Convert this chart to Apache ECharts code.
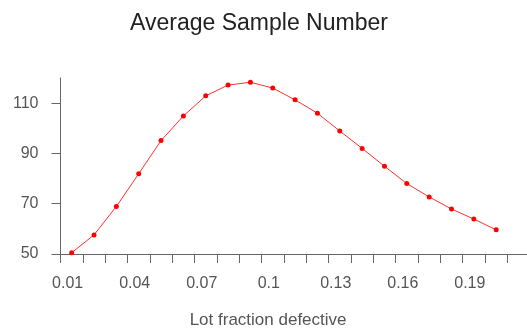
<!DOCTYPE html>
<html><head><meta charset="utf-8">
<script src="https://cdn.jsdelivr.net/npm/echarts@6/dist/echarts.min.js"></script>
<style>html,body{margin:0;padding:0;background:#fff}#c{width:527px;height:329px}</style>
</head><body><div id="c"></div>
<script>
const categories = ['0.01','0.02','0.03','0.04','0.05','0.06','0.07','0.08','0.09','0.1','0.11','0.12','0.13','0.14','0.15','0.16','0.17','0.18','0.19','0.2','0.21'];
const asnValues = [50.5, 57.6, 68.9, 81.9, 95.1, 104.9, 112.9, 117.2, 118.3, 116.0, 111.3, 106.0, 98.9, 92.0, 84.9, 78.0, 72.7, 67.9, 63.9, 59.6, null];
const yTicks = [50, 70, 90, 110];

const chart = echarts.init(document.getElementById('c'), null, {renderer:'canvas'});
chart.setOption({
  animation: false,
  title: {
    text: 'Average Sample Number', left: 254, top: 7, textAlign: 'center',
    textStyle: {fontFamily: 'Liberation Sans', fontSize: 23, fontWeight: 'normal', color: '#222'}
  },
  grid: {left: 60.5, right: -2.7, top: 78, bottom: 75, containLabel: false, outerBoundsMode: 'none'},
  xAxis: {
    type: 'category', data: categories, boundaryGap: true,
    name: 'Lot fraction defective', nameLocation: 'middle', nameGap: 58,
    nameTextStyle: {fontFamily: 'Liberation Sans', fontSize: 17, color: '#555', padding: [0, 54, 0, 0]},
    axisLine: {lineStyle: {color: '#666', width: 1}},
    axisTick: {show: true, interval: 0, length: 9, lineStyle: {color: '#666'}},
    axisLabel: {interval: 2, margin: 22, fontFamily: 'Liberation Sans', fontSize: 16, color: '#555', padding: [0, 8, 0, 0]},
    splitLine: {show: false}
  },
  yAxis: {
    type: 'value', min: 50, max: 120,
    axisLine: {show: true, lineStyle: {color: '#666', width: 1}},
    axisTick: {show: true, length: 9, customValues: yTicks, lineStyle: {color: '#666'}},
    axisLabel: {customValues: yTicks, margin: 22, fontFamily: 'Liberation Sans', fontSize: 16, color: '#555'},
    splitLine: {show: false}
  },
  series: [{
    type: 'line', data: asnValues, smooth: false,
    symbol: 'circle', symbolSize: 5,
    lineStyle: {color: '#ff3030', width: 1},
    itemStyle: {color: '#ff0000'}
  }]
});
</script></body></html>
